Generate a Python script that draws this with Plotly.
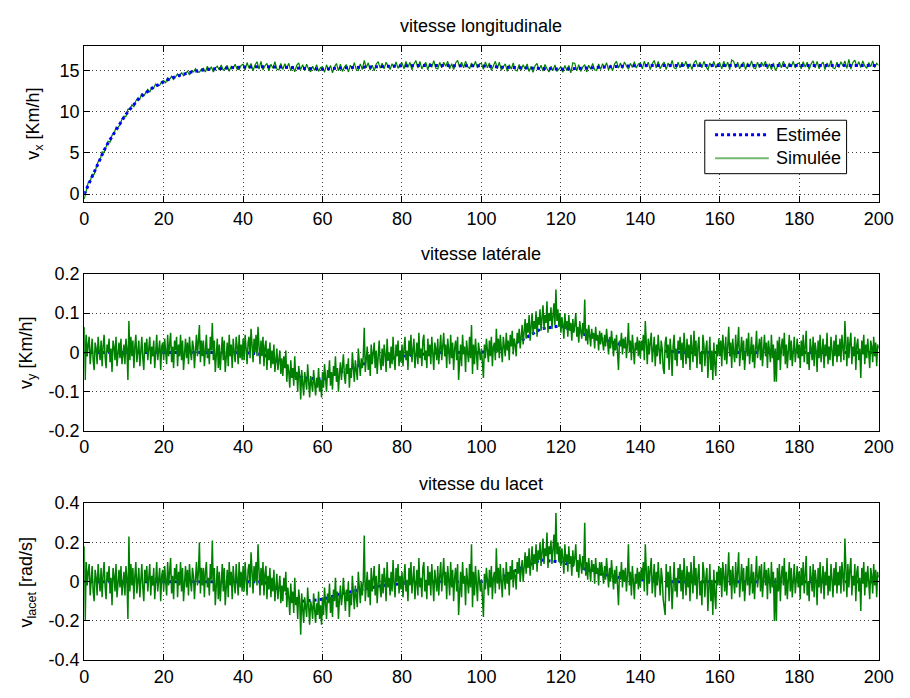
import numpy as np
import plotly.graph_objects as go

# ---------------------------------------------------------------- data
# simulated longitudinal speed, every 0.5 s from 0 to 200 s
t_vx_sim = np.arange(0, 200.5, 0.5)
vx_sim = [
    -0.6, 0.3, 1.4, 1.55, 2.4, 2.4, 3.3, 3.95, 4.15, 5.1, 5.05, 5.75, 6.4, 6.3, 7.15, 7.3, 8.1, 8.05, 8.4, 9.1,
    9.45, 9.4, 10.3, 10.25, 10.8, 10.6, 11.3, 11.65, 11.55, 12.2, 11.9, 12.3, 12.7, 12.35, 12.95, 12.9, 13.35, 13.1, 13.2, 13.65,
    13.75, 13.5, 14.1, 13.9, 14.3, 13.9, 14.3, 14.55, 14.25, 14.75, 14.35, 14.63, 14.9, 14.45, 14.95, 14.8, 15.2, 14.8, 14.8, 15.15,
    15.25, 14.8, 15.5, 15.0, 15.45, 14.8, 15.3, 15.5, 15.05, 15.65, 15.0, 15.3, 15.6, 14.9, 15.5, 15.25, 15.75, 15.15, 15.1, 15.6,
    15.75, 15.05, 15.95, 15.25, 15.85, 14.95, 15.65, 16.05, 15.15, 16.1, 15.05, 15.55, 15.85, 14.95, 15.75, 15.25, 16.05, 15.15, 15.05, 15.85,
    15.1, 15.8, 15.28, 15.86, 14.95, 15.54, 14.83, 15.61, 15.9, 15.09, 15.68, 14.96, 15.75, 15.14, 14.83, 15.51, 15.0, 15.69, 14.88, 15.36,
    15.45, 14.76, 15.68, 14.99, 15.6, 14.71, 15.43, 15.84, 14.95, 15.76, 14.88, 15.39, 15.7, 14.81, 15.63, 15.14, 15.95, 15.06, 14.98, 15.79,
    15.1, 16.2, 15.32, 15.92, 15.03, 15.64, 14.95, 15.75, 16.06, 15.27, 15.88, 15.18, 15.99, 15.5, 15.11, 15.81, 15.32, 16.03, 15.24, 15.74,
    15.88, 15.18, 16.08, 15.38, 15.98, 15.08, 15.78, 16.18, 15.28, 16.08, 15.18, 15.68, 15.98, 15.08, 15.88, 15.38, 16.18, 15.28, 15.18, 15.98,
    15.3, 16.0, 15.5, 16.1, 15.2, 15.8, 15.1, 15.9, 16.2, 15.4, 16.0, 15.3, 16.1, 15.5, 15.2, 15.9, 15.4, 16.1, 15.3, 15.8,
    15.85, 15.14, 16.03, 15.31, 15.9, 14.99, 15.68, 16.1, 15.2, 15.99, 15.03, 15.41, 15.8, 14.89, 15.68, 15.16, 15.9, 15.04, 14.93, 15.71,
    15.0, 15.69, 15.18, 15.78, 14.87, 15.46, 14.76, 15.55, 15.84, 15.03, 15.63, 14.92, 15.71, 15.2, 14.8, 15.49, 14.98, 15.67, 14.87, 15.16,
    15.45, 14.76, 15.6, 14.99, 15.6, 14.71, 15.93, 15.84, 14.95, 15.7, 14.88, 15.39, 15.7, 14.81, 15.63, 15.14, 15.85, 15.06, 14.98, 15.79,
    15.1, 15.81, 15.32, 15.93, 15.04, 15.65, 14.96, 15.77, 16.08, 15.29, 15.9, 15.21, 16.02, 15.53, 15.14, 15.85, 15.36, 16.07, 15.28, 15.79,
    15.9, 15.2, 16.1, 15.4, 16.0, 15.1, 15.8, 16.2, 15.3, 16.1, 15.2, 15.7, 16.0, 15.1, 15.9, 15.4, 16.2, 15.3, 15.2, 16.0,
    15.3, 16.0, 15.5, 16.1, 15.2, 15.8, 15.1, 15.9, 16.2, 15.4, 16.0, 15.3, 16.1, 15.5, 15.05, 15.9, 15.4, 16.1, 15.3, 15.8,
    15.9, 15.2, 16.1, 15.4, 16.0, 15.1, 16.25, 16.1, 15.3, 16.0, 15.2, 15.7, 16.0, 15.1, 15.9, 15.4, 16.15, 15.3, 15.2, 16.0,
    15.3, 16.0, 15.5, 16.1, 15.2, 15.8, 15.1, 15.9, 15.0, 15.4, 16.0, 15.3, 16.1, 15.5, 15.2, 15.9, 15.4, 16.1, 15.3, 15.8,
    15.9, 15.2, 16.05, 15.4, 16.0, 15.1, 15.8, 16.15, 15.3, 16.1, 15.2, 15.7, 16.0, 15.1, 15.9, 15.4, 16.2, 15.3, 15.2, 16.0,
    15.35, 16.05, 15.55, 16.15, 15.25, 16.35, 15.15, 15.95, 16.25, 15.45, 16.05, 15.35, 16.15, 15.55, 15.25, 15.95, 15.45, 16.15, 15.35, 15.85,
    15.6,
]

# simulated lateral and yaw speeds, every 0.25 s from 0 to 200 s
t_sim = np.arange(0, 200.125, 0.25)
vy_sim = [
    .065, -.07, .045, -.01, .02, .04, -.03, .015, .035, -.02, -.045, .025, .01, -.03, .04, .005, -.02, .03, -.035, .015, .045, -.01, -.04, .02, .00, .035, -.025, .01, -.05, .03, .015, -.02, .04, -.035, .005, .025, -.015, .035, -.03, .01,
    .02, -.03, .035, .01, -.07, .08, -.02, .04, -.01, .03, -.04, .015, .045, -.025, .005, .03, -.035, .02, .04, -.015, -.045, .025, .00, .035, -.02, .01, .04, -.03, .015, -.01, .03, -.04, .02, .045, -.02, .005, .03, -.045, .015, .025,
    -.02, .035, .01, -.03, .045, -.01, .02, .05, -.025, .015, -.04, .03, .005, .04, -.035, .02, -.01, .045, -.02, .03, -.045, .01, .035, -.015, .025, -.03, .04, .00, -.02, .03, .015, -.04, .025, .045, -.01, .02, .07, -.025, .03, -.01,
    .03, -.035, .02, .045, -.015, .01, -.03, .04, .005, .075, -.02, .03, -.05, .015, .035, -.04, .02, -.045, .01, .04, -.02, .03, -.05, .005, .025, -.035, .045, -.01, .02, -.04, .035, .00, -.025, .04, .015, -.03, .045, -.015, .02, -.02,
    .035, -.02, .045, .01, -.03, .025, .04, -.015, .06, .02, -.025, .035, .00, .045, -.01, .065, .02, -.03, .03, -.01, .04, -.035, .015, .03, -.045, .01, -.02, .025, -.04, .005, -.03, .02, -.05, -.01, .01, -.045, -.02, .005, -.055, -.015,
    -.06, -.01, -.04, .005, -.075, -.03, -.05, -.09, -.02, -.065, -.04, -.085, -.01, -.07, -.05, -.10, -.035, -.06, -.12, -.045, -.08, -.11, -.05, -.07, -.095, -.03, -.085, -.115, -.06, -.075, -.10, -.045, -.08, -.11, -.065, -.09, -.04, -.10, -.07, -.115,
    -.05, -.09, -.03, -.075, -.10, -.045, -.065, -.02, -.085, -.05, -.095, -.035, -.06, -.01, -.075, -.04, -.10, -.055, -.025, -.07, -.045, -.005, -.06, -.08, -.03, -.055, -.015, -.09, -.04, -.065, .00, -.05, -.075, -.02, -.045, -.07, .01, -.035, -.06, -.015,
    -.04, -.01, .063, -.05, -.02, .015, -.045, -.005, -.06, .02, -.03, -.01, .025, -.04, .005, -.055, -.015, .03, -.025, -.045, .01, -.035, .02, -.005, -.05, .035, -.02, .00, -.04, .015, -.03, .04, -.015, -.045, .02, -.01, .03, -.035, .005, -.025,
    .02, -.035, .01, .04, -.02, .005, -.045, .03, -.01, .045, -.025, .015, .035, -.04, .00, .025, -.03, .05, -.015, .01, -.035, .03, .045, -.02, .005, -.04, .035, -.01, .02, -.03, .04, .00, -.045, .025, .01, -.02, .035, -.03, .015, .045,
    -.02, .03, .05, -.01, .02, -.04, .035, .005, -.03, .045, -.015, .025, -.045, .01, .03, -.02, .04, -.07, -.01, .02, -.035, .045, -.005, .015, -.05, .03, .00, -.025, .04, -.015, .07, -.055, .02, -.03, .035, -.01, -.045, .025, .005, -.02,
    .01, -.03, -.065, .02, -.015, .035, .005, -.025, .03, -.01, .04, -.035, .015, .025, -.02, .06, .00, .035, -.015, .045, .01, -.025, .04, .02, -.01, .05, .005, .03, -.02, .045, .015, .055, -.005, .035, .02, -.01, .05, .025, .06, .01,
    .045, .07, .02, .06, .085, .035, .075, .05, .095, .03, .065, .10, .045, .08, .06, .105, .04, .09, .07, .11, .055, .085, .12, .06, .095, .075, .13, .05, .10, .08, .115, .06, .09, .125, .07, .16, .08, .11, .065, .10,
    .05, .09, .07, .035, .10, .06, .08, .04, .095, .055, .075, .03, .085, .05, .07, .10, .04, .065, .025, .08, .055, .035, .075, .045, .135, .03, .06, .02, .07, .045, .015, .06, .035, .05, .01, .065, .03, .045, .005, .055,
    .02, .05, .03, .005, .045, .015, .06, .025, -.005, .04, .01, .055, .02, -.01, .035, .005, .045, -.02, -.045, .03, .015, .05, -.005, .035, .01, .04, -.015, .02, .075, .00, .03, -.02, .045, .01, -.03, .025, .005, .04, -.01, .03,
    -.015, .03, .005, .045, -.02, .08, .01, -.03, .035, -.005, .025, .05, -.025, .015, .04, -.035, .02, -.01, .045, .005, -.03, .03, .01, -.04, -.055, .025, .04, -.015, .02, -.045, .035, .00, -.06, .015, .045, -.02, .01, -.035, .03, .005,
    .04, -.02, .025, -.04, .05, .01, -.03, .035, -.015, .02, -.045, .045, .005, -.025, .055, -.01, .03, -.04, .015, .04, -.03, .00, -.05, .045, .02, -.035, .01, .03, -.065, -.02, .04, -.045, .005, -.07, .025, -.03, -.06, .02, -.01, .035,
    -.01, .03, -.035, .045, .005, -.02, .04, -.03, .015, .065, -.01, .025, -.04, .035, .00, -.025, .045, -.015, .02, .065, -.035, .01, .04, -.02, .03, -.045, .015, .035, -.01, .05, -.03, .005, .04, -.025, .02, -.04, .03, .055, -.015, .01,
    .035, -.02, .04, -.035, .01, .045, -.01, .025, -.04, .03, .005, -.025, .045, -.015, .02, -.075, .01, -.075, .03, -.02, .04, -.045, .015, .035, -.01, .05, -.03, .02, -.04, .005, .045, -.02, .03, -.035, .015, .04, -.025, .01, .035, -.015,
    .02, -.04, .03, -.01, .045, -.025, .015, .055, -.03, .00, -.045, .035, .01, -.02, .04, -.035, .025, .005, -.05, .03, -.015, .045, -.025, .01, .035, -.04, .02, -.01, .05, -.03, .015, -.02, .04, .005, -.035, .03, -.01, .045, -.025, .02,
    -.01, .035, -.025, .045, .005, -.02, .08, .01, -.035, .04, -.015, .025, .05, -.03, .015, -.01, .04, -.045, .02, .035, -.02, .01, -.065, .03, -.005, .045, -.03, .02, -.015, .035, .00, -.04, .03, .015, -.025, .04, -.01, .025, -.035, .02,
    .01,
]

lacet_sim = [
    .18, -.20, .10, -.02, .05, .09, -.07, .03, .08, -.05, -.10, .06, .02, -.07, .09, .01, -.05, .07, -.08, .03, .10, -.02, -.09, .05, .00, .08, -.06, .02, -.12, .07, .03, -.05, .09, -.08, .01, .06, -.03, .08, -.07, .02,
    .05, -.07, .08, .02, -.19, .23, -.05, .09, -.02, .07, -.09, .03, .10, -.06, .01, .07, -.08, .05, .09, -.03, -.10, .06, .00, .08, -.05, .02, .09, -.07, .03, -.02, .07, -.09, .05, .10, -.05, .01, .07, -.10, .03, .06,
    -.05, .08, .02, -.07, .10, -.02, .05, .12, -.06, .03, -.09, .07, .01, .09, -.08, .05, -.02, .10, -.05, .07, -.10, .02, .08, -.03, .06, -.07, .09, .00, -.05, .07, .03, -.09, .06, .10, -.02, .05, .20, -.06, .07, -.02,
    .07, -.08, .05, .10, -.03, .02, -.07, .09, .01, .21, -.05, .07, -.12, .03, .08, -.09, .05, -.10, .02, .09, -.05, .07, -.12, .01, .06, -.08, .10, -.02, .05, -.09, .08, .00, -.06, .09, .03, -.07, .10, -.03, .05, -.05,
    .08, -.05, .10, .02, -.07, .06, .09, -.03, .15, .05, -.06, .08, .00, .10, -.02, .19, .05, -.07, .07, -.02, .10, -.07, .04, .08, -.09, .03, -.04, .07, -.08, .02, -.05, .06, -.10, .00, .04, -.09, -.03, .03, -.11, -.02,
    -.10, .02, -.05, .05, -.13, -.03, -.08, -.17, -.01, -.11, -.05, -.16, .02, -.12, -.08, -.19, -.04, -.10, -.27, -.06, -.14, -.21, -.08, -.12, -.18, -.03, -.16, -.22, -.10, -.13, -.19, -.06, -.14, -.21, -.11, -.17, -.05, -.19, -.12, -.22,
    -.08, -.17, -.03, -.13, -.19, -.06, -.11, -.01, -.16, -.08, -.18, -.04, -.10, .02, -.13, -.05, -.19, -.09, -.02, -.12, -.07, .02, -.11, -.15, -.04, -.10, .00, -.18, -.06, -.12, .03, -.09, -.14, -.02, -.07, -.13, .05, -.05, -.11, .00,
    -.07, .00, .235, -.10, -.03, .05, -.08, .01, -.12, .07, -.05, .00, .08, -.07, .03, -.11, -.01, .09, -.04, -.08, .04, -.06, .07, .01, -.10, .10, -.03, .02, -.07, .05, -.05, .11, -.01, -.08, .07, .00, .09, -.06, .03, -.04,
    .05, -.08, .02, .09, -.05, .01, -.10, .07, -.02, .10, -.06, .03, .08, -.09, .00, .06, -.07, .12, -.03, .02, -.08, .07, .10, -.05, .01, -.09, .08, -.02, .05, -.07, .09, .00, -.10, .06, .02, -.05, .08, -.07, .03, .10,
    -.05, .07, .12, -.02, .05, -.09, .08, .01, -.07, .10, -.03, .06, -.10, .02, .07, -.05, .09, -.17, -.02, .05, -.08, .10, -.01, .03, -.12, .07, .00, -.06, .09, -.03, .19, -.13, .05, -.07, .08, -.02, -.10, .06, .01, -.05,
    .01, -.08, -.18, .04, -.04, .07, .00, -.07, .06, -.03, .08, -.09, .02, .05, -.06, .17, -.01, .07, -.04, .09, .00, -.08, .07, .03, -.04, .10, -.01, .05, -.07, .08, .01, .11, -.03, .06, .03, -.04, .10, .04, .12, .00,
    .06, .11, .00, .09, .15, .04, .13, .07, .17, .03, .10, .18, .06, .14, .09, .19, .05, .16, .11, .20, .08, .15, .22, .09, .17, .13, .25, .07, .18, .14, .21, .09, .16, .24, .11, .35, .14, .20, .10, .18,
    .08, .17, .12, .04, .19, .10, .14, .05, .18, .09, .13, .03, .16, .08, .12, .19, .05, .11, .02, .14, .09, .04, .13, .06, .30, .03, .10, .01, .12, .06, .00, .11, .05, .09, -.01, .12, .04, .07, -.02, .10,
    .03, .10, .05, -.01, .08, .01, .12, .04, -.03, .07, .00, .11, .03, -.04, .06, -.01, .08, -.07, -.12, .05, .01, .10, -.03, .06, .00, .07, -.05, .03, .19, -.02, .05, -.07, .08, .00, -.09, .04, -.01, .07, -.04, .05,
    -.03, .07, .01, .10, -.05, .19, .02, -.07, .08, -.01, .06, .12, -.06, .03, .09, -.08, .05, -.02, .10, .01, -.07, .07, .02, -.09, -.13, -.17, .09, -.03, .05, -.10, .08, .00, -.14, .03, .10, -.05, .02, -.08, .07, .01,
    .09, -.05, .06, -.09, .12, .02, -.07, .08, -.03, .05, -.10, .10, .01, -.06, .13, -.02, .07, -.09, .03, .09, -.07, .00, -.12, .10, .05, -.08, .02, .07, -.15, -.05, .09, -.10, .01, -.17, .06, -.07, -.14, .05, -.02, .08,
    -.02, .07, -.08, .10, .01, -.05, .09, -.07, .03, .15, -.02, .06, -.09, .08, .00, -.06, .10, -.03, .05, .15, -.08, .02, .09, -.05, .07, -.10, .03, .08, -.02, .12, -.07, .01, .09, -.06, .05, -.09, .07, .13, -.03, .02,
    .08, -.05, .09, -.08, .02, .10, -.02, .06, -.09, .07, .01, -.06, .10, -.03, .05, -.20, .02, -.20, .07, -.05, .09, -.10, .03, .08, -.02, .12, -.07, .05, -.09, .01, .10, -.05, .07, -.08, .03, .09, -.06, .02, .08, -.03,
    .05, -.09, .07, -.02, .10, -.06, .03, .13, -.07, .00, -.10, .08, .02, -.05, .09, -.08, .06, .01, -.12, .07, -.03, .10, -.06, .02, .08, -.09, .05, -.02, .12, -.07, .03, -.05, .09, .01, -.08, .07, -.02, .10, -.06, .05,
    -.02, .08, -.06, .10, .01, -.05, .22, .02, -.08, .09, -.03, .06, .12, -.07, .03, -.02, .09, -.10, .05, .08, -.05, .02, -.15, .07, -.01, .10, -.07, .05, -.03, .08, .00, -.09, .07, .03, -.06, .09, -.02, .06, -.08, .05,
    .02,
]

# estimated longitudinal speed (1 s steps during the run-up, then 5 s)
t_vx_est = list(range(0, 41)) + list(range(45, 201, 5))
vx_est = [
    0.0, 1.1, 2.2, 3.2, 4.3, 5.3, 6.2, 7.0, 7.8, 8.6, 9.3, 10.0, 10.6, 11.2, 11.7, 12.1, 12.5, 12.8, 13.1, 13.4,
    13.6, 13.85, 14.1, 14.25, 14.4, 14.55, 14.7, 14.8, 14.9, 15.0, 15.05, 15.1, 15.15, 15.2, 15.25, 15.28, 15.3,
    15.33, 15.35, 15.38, 15.4,
    15.45, 15.4, 15.25, 15.15, 15.3, 15.4, 15.5, 15.55, 15.6, 15.6, 15.6, 15.55, 15.4, 15.3, 15.2, 15.15,
    15.25, 15.4, 15.5, 15.6, 15.6, 15.6, 15.6, 15.6, 15.6, 15.6, 15.6, 15.6, 15.6, 15.65, 15.65, 15.6,
]

# estimated lateral and yaw speeds, every 5 s
t_est = list(range(0, 201, 5))
vy_est = [
    0, 0, 0, 0, 0, 0, 0, 0, 0, -.005, -.03, -.065, -.068, -.048, -.03, -.02, -.01, -.005, 0, 0,
    0, .01, .03, .06, .068, .048, .035, .02, .01, .005, 0, 0, 0, 0, 0, 0, 0, 0, 0, 0, 0,
]
lacet_est = [
    0, 0, 0, 0, 0, 0, 0, 0, 0, 0, -.05, -.10, -.09, -.06, -.04, -.02, -.01, 0, 0, 0,
    0, .02, .07, .11, .10, .07, .04, .02, .01, 0, 0, 0, 0, 0, 0, 0, 0, 0, 0, 0, 0,
]

assert len(vx_sim) == len(t_vx_sim)
assert len(vy_sim) == len(t_sim) and len(lacet_sim) == len(t_sim)
assert len(vx_est) == len(t_vx_est)
assert len(vy_est) == len(t_est) and len(lacet_est) == len(t_est)

x_ticks = [0, 20, 40, 60, 80, 100, 120, 140, 160, 180, 200]
vx_ticks = [0, 5, 10, 15]
vy_ticks = [-0.2, -0.1, 0, 0.1, 0.2]
vy_tick_text = ["-0.2", "-0.1", "0", "0.1", "0.2"]
lacet_ticks = [-0.4, -0.2, 0, 0.2, 0.4]
lacet_tick_text = ["-0.4", "-0.2", "0", "0.2", "0.4"]

titles = ["vitesse longitudinale", "vitesse latérale", "vitesse du lacet"]
ylabels = ["v<sub>x</sub> [Km/h]", "v<sub>y</sub> [Km/h]", "v<sub>lacet</sub> [rad/s]"]
legend_names = ["Estimée", "Simulée"]

# ---------------------------------------------------------------- figure
W, H = 910, 698
GREEN = "rgb(0,128,0)"
BLUE = "rgb(0,0,255)"
FONT = "Liberation Sans, Arial, Helvetica, sans-serif"

fig = go.Figure()

# top panel: estimate drawn over the simulated signal
fig.add_trace(go.Scatter(x=t_vx_sim, y=vx_sim, mode="lines", name=legend_names[1],
                         line=dict(color=GREEN, width=1.2), showlegend=False,
                         xaxis="x", yaxis="y"))
fig.add_trace(go.Scatter(x=t_vx_est, y=vx_est, mode="lines", name=legend_names[0],
                         line=dict(color=BLUE, width=3, dash="dot"), showlegend=False,
                         xaxis="x", yaxis="y"))

# lower panels: estimate under the noisy simulated signal
for est_y, sim_y, ax in [(vy_est, vy_sim, "2"), (lacet_est, lacet_sim, "3")]:
    fig.add_trace(go.Scatter(x=t_est, y=est_y, mode="lines", showlegend=False,
                             name=legend_names[0],
                             line=dict(color=BLUE, width=3, dash="dot"),
                             xaxis="x" + ax, yaxis="y" + ax))
    fig.add_trace(go.Scatter(x=t_sim, y=sim_y, mode="lines", showlegend=False,
                             name=legend_names[1],
                             line=dict(color=GREEN, width=1.5),
                             xaxis="x" + ax, yaxis="y" + ax))

# panel frames in pixels: (top, bottom)
left_px, right_px = 81, 893.3
panels = [(36.7, 198.0), (271.7, 433.3), (507.7, 669.3)]
ylabel_x = [30.5, 23.0, 23.5]
x_dom = [left_px / W, right_px / W]

axis_common = dict(
    showline=True, linecolor="black", linewidth=1, mirror="ticks",
    ticks="inside", ticklen=6, tickcolor="black", tickwidth=1,
    showgrid=True, gridcolor="rgba(0,0,0,0.75)", gridwidth=1, griddash="1px,3px",
    zeroline=False, tickfont=dict(family=FONT, size=18, color="black"),
)

y_ranges = [[-1, 18], [-0.2, 0.2], [-0.4, 0.4]]
y_tickvals = [vx_ticks, vy_ticks, lacet_ticks]
y_ticktext = [[str(v) for v in vx_ticks], vy_tick_text, lacet_tick_text]

layout = dict(
    width=W, height=H,
    margin=dict(l=0, r=0, t=0, b=0),
    paper_bgcolor="white", plot_bgcolor="white",
    font=dict(family=FONT, size=18, color="black"),
    showlegend=False,
)


def px_x(v):
    return v / W


def px_y(v):
    return 1 - v / H


annotations = []
for i, (top, bot) in enumerate(panels):
    sfx = "" if i == 0 else str(i + 1)
    y_dom = [px_y(bot), px_y(top)]
    layout["xaxis" + sfx] = dict(axis_common, domain=x_dom, range=[0, 200],
                                 tickvals=x_ticks, anchor="y" + sfx)
    layout["yaxis" + sfx] = dict(axis_common, domain=y_dom, range=y_ranges[i],
                                 tickvals=y_tickvals[i], ticktext=y_ticktext[i],
                                 anchor="x" + sfx)
    annotations.append(dict(text=titles[i], xref="paper", yref="paper",
                            x=px_x((left_px + right_px) / 2), y=px_y(top - 20),
                            xanchor="center", yanchor="middle", showarrow=False,
                            font=dict(family=FONT, size=18, color="black")))
    annotations.append(dict(text=ylabels[i], xref="paper", yref="paper",
                            x=px_x(ylabel_x[i]), y=px_y((top + bot) / 2), textangle=-90,
                            xanchor="center", yanchor="middle", showarrow=False,
                            font=dict(family=FONT, size=18, color="black")))

# legend box of the top panel (paper coordinates)
box_l, box_r, box_t, box_b = 715.5, 860.5, 113.5, 168.5
rows_y = [128.5, 152.5]
sample_x0, sample_x1, text_x = 726, 781, 786
shapes = [dict(type="rect", xref="paper", yref="paper",
               x0=px_x(box_l), x1=px_x(box_r), y0=px_y(box_b), y1=px_y(box_t),
               line=dict(color="black", width=1), fillcolor="white", layer="above")]
sample_styles = [dict(color=BLUE, width=3, dash="dot"),
                 dict(color="rgba(0,128,0,0.55)", width=2)]
for name, ry, style in zip(legend_names, rows_y, sample_styles):
    shapes.append(dict(type="line", xref="paper", yref="paper",
                       x0=px_x(sample_x0), x1=px_x(sample_x1), y0=px_y(ry), y1=px_y(ry),
                       line=style, layer="above"))
    annotations.append(dict(text=name, xref="paper", yref="paper",
                            x=px_x(text_x), y=px_y(ry), xanchor="left", yanchor="middle",
                            showarrow=False,
                            font=dict(family=FONT, size=18, color="black")))

layout["annotations"] = annotations
layout["shapes"] = shapes

fig.update_layout(**layout)
fig.write_html("out.html")
